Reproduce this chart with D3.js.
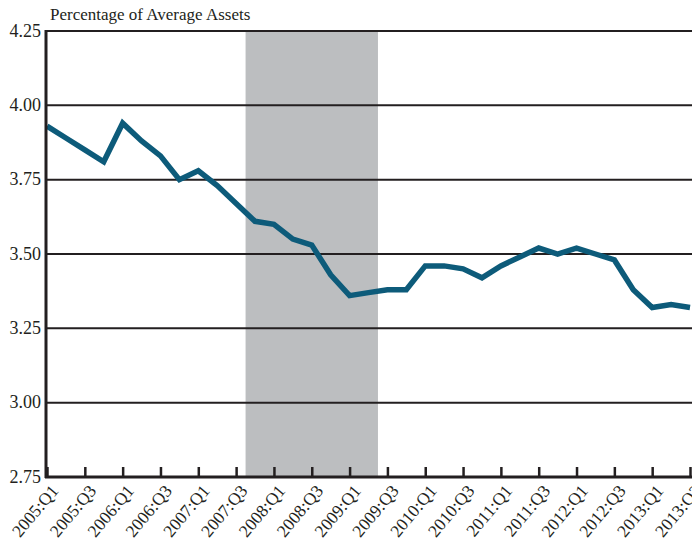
<!DOCTYPE html>
<html>
<head>
<meta charset="utf-8">
<script src="https://cdn.jsdelivr.net/npm/d3@7"></script>
<style>
  body { margin: 0; background: #fff; }
  text { font-family: "Liberation Serif", "DejaVu Serif", serif; fill: #231f20; }
</style>
</head>
<body>
<div id="container"></div>
<script>
/* DATA */
const quarters = [
  "2005:Q1","2005:Q2","2005:Q3","2005:Q4",
  "2006:Q1","2006:Q2","2006:Q3","2006:Q4",
  "2007:Q1","2007:Q2","2007:Q3","2007:Q4",
  "2008:Q1","2008:Q2","2008:Q3","2008:Q4",
  "2009:Q1","2009:Q2","2009:Q3","2009:Q4",
  "2010:Q1","2010:Q2","2010:Q3","2010:Q4",
  "2011:Q1","2011:Q2","2011:Q3","2011:Q4",
  "2012:Q1","2012:Q2","2012:Q3","2012:Q4",
  "2013:Q1","2013:Q2","2013:Q3"
];
const values = [
  3.93, 3.89, 3.85, 3.81,
  3.94, 3.88, 3.83, 3.75,
  3.78, 3.73, 3.67, 3.61,
  3.60, 3.55, 3.53, 3.43,
  3.36, 3.37, 3.38, 3.38,
  3.46, 3.46, 3.45, 3.42,
  3.46, 3.49, 3.52, 3.50,
  3.52, 3.50, 3.48, 3.38,
  3.32, 3.33, 3.32
];
const yTicks = [2.75, 3.00, 3.25, 3.50, 3.75, 4.00, 4.25];
const recession = ["2007:Q4", "2009:Q2"];
const yTitle = "Percentage of Average Assets";

/* CONSTANTS */
const width = 692;
const height = 546;
const margin = {top: 31, right: 2, bottom: 69, left: 46};

const data = quarters.map((q, i) => ({q, v: values[i]}));

/* SCALES */
const xScale = d3.scalePoint()
  .domain(quarters)
  .range([margin.left + 1, width - margin.right]);

const yScale = d3.scaleLinear()
  .domain([2.75, 4.25])
  .range([height - margin.bottom, margin.top]);

const step = xScale.step();

const svg = d3.select("#container")
  .append("svg")
  .attr("width", width)
  .attr("height", height);

// recession shading
svg.append("rect")
  .attr("x", xScale(recession[0]) - step / 2)
  .attr("width", xScale(recession[1]) - xScale(recession[0]) + step)
  .attr("y", margin.top)
  .attr("height", yScale(2.75) - margin.top)
  .attr("fill", "#bcbec0");

// gridlines
svg.append("g")
  .selectAll("line")
  .data(yTicks.filter(d => d > 2.75))
  .join("line")
  .attr("x1", margin.left)
  .attr("x2", width)
  .attr("y1", d => yScale(d))
  .attr("y2", d => yScale(d))
  .attr("stroke", "#231f20")
  .attr("stroke-width", 2);

// y labels
svg.append("g")
  .selectAll("text")
  .data(yTicks)
  .join("text")
  .attr("x", margin.left - 5)
  .attr("y", d => yScale(d))
  .attr("dy", "0.32em")
  .attr("text-anchor", "end")
  .style("font-size", "18px")
  .text(d => d3.format(".2f")(d));

// line
svg.append("path")
  .datum(data)
  .attr("fill", "none")
  .attr("stroke", "#0d5b7a")
  .attr("stroke-width", 5.5)
  .attr("stroke-linejoin", "miter")
  .attr("d", d3.line().x(d => xScale(d.q)).y(d => yScale(d.v)));

// x axis, labels every other quarter
const labelQs = quarters.filter((d, i) => i % 2 === 0);
const xAxis = svg.append("g")
  .attr("transform", `translate(0,${yScale(2.75)})`)
  .call(d3.axisBottom(xScale).tickValues(labelQs).tickSize(-10).tickSizeOuter(0).tickPadding(0));
xAxis.select(".domain")
  .attr("d", `M${margin.left - 1},0H${width}`)
  .attr("stroke", "#231f20")
  .attr("stroke-width", 3);
xAxis.selectAll(".tick line")
  .attr("stroke", "#231f20")
  .attr("stroke-width", 2.5);
xAxis.selectAll(".tick text")
  .attr("y", 0)
  .attr("dy", 0)
  .attr("transform", "translate(2,6) rotate(-50)")
  .attr("text-anchor", "end")
  .attr("dominant-baseline", "hanging")
  .style("font-size", "17.5px")
  .style("font-family", "'Liberation Serif', serif")
  .attr("fill", "#231f20");

// y axis line
svg.append("line")
  .attr("x1", margin.left)
  .attr("x2", margin.left)
  .attr("y1", margin.top - 1)
  .attr("y2", yScale(2.75) + 1)
  .attr("stroke", "#231f20")
  .attr("stroke-width", 3);

// y title
svg.append("text")
  .attr("x", 50)
  .attr("y", 20)
  .style("font-size", "17px")
  .text(yTitle);
</script>
</body>
</html>
